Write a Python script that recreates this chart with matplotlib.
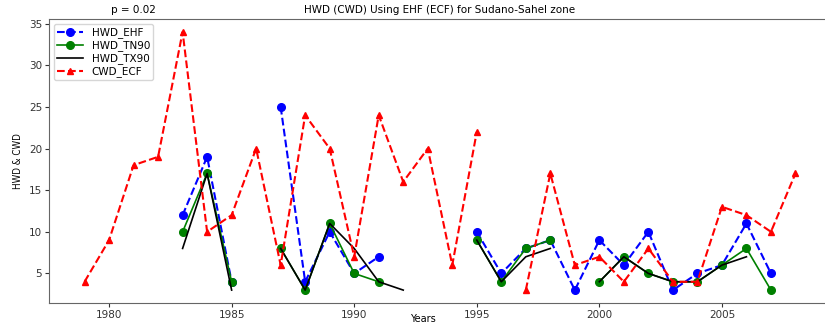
import numpy as np
import matplotlib
matplotlib.use("Agg")
import matplotlib.pyplot as plt

nan = np.nan
years = list(range(1979, 2009))

hwd_ehf = [nan, nan, nan, nan, 12, 19, 4, nan, 25, 4, 10, 5, 7, nan, nan, nan,
           10, 5, 8, 9, 3, 9, 6, 10, 3, 5, 6, 11, 5, nan]
hwd_tn90 = [nan, nan, nan, nan, 10, 17, 4, nan, 8, 3, 11, 5, 4, nan, nan, nan,
            9, 4, 8, 9, nan, 4, 7, 5, 4, 4, 6, 8, 3, nan]
hwd_tx90 = [nan, nan, nan, nan, 8, 17, 3, nan, 8, 3, 11, 8, 4, 3, nan, nan,
            9, 4, 7, 8, nan, 4, 7, 5, 4, 4, 6, 7, nan, nan]
cwd_ecf = [4, 9, 18, 19, 34, 10, 12, 20, 6, 24, 20, 7, 24, 16, 20, 6,
           22, nan, 3, 17, 6, 7, 4, 8, 4, 4, 13, 12, 10, 17]

plt.rcParams['font.family'] = ['DejaVu Sans']
fig = plt.figure(figsize=(8.25, 3.25), dpi=100)
ax = fig.add_axes([49/825, 1-303/325, (831-49)/825, (303-19)/325])

ax.plot(years, hwd_ehf, 'b--', marker='o', markersize=5.5, linewidth=1.5, label='HWD_EHF')
ax.plot(years, hwd_tn90, 'g-', marker='o', markersize=5.5, linewidth=1.2, label='HWD_TN90')
ax.plot(years, hwd_tx90, 'k-', linewidth=1.2, label='HWD_TX90')
ax.plot(years, cwd_ecf, 'r--', marker='^', markersize=5, linewidth=1.5, label='CWD_ECF')

ax.set_xticks([1980, 1985, 1990, 1995, 2000, 2005])
ax.set_yticks([5, 10, 15, 20, 25, 30, 35])
ax.tick_params(labelsize=7.5, colors='#333333', length=3, pad=2)
for s in ax.spines.values():
    s.set_color('#666666')
ax.spines['right'].set_visible(False)

ax.set_title('HWD (CWD) Using EHF (ECF) for Sudano-Sahel zone', fontsize=7.5, pad=4)
ax.text(0.108, 1.015, 'p = 0.02', transform=ax.transAxes, fontsize=7.5, ha='center', va='bottom')
fig.text(423/825, 1-319/325, 'Years', fontsize=7, ha='center', va='center')
ax.set_ylabel('HWD & CWD', fontsize=7, fontstretch='condensed', labelpad=4)
ax.legend(loc='upper left', fontsize=7.5, handlelength=2.5, borderpad=0.3, labelspacing=0.2)

fig.savefig('out.png', dpi=100)
